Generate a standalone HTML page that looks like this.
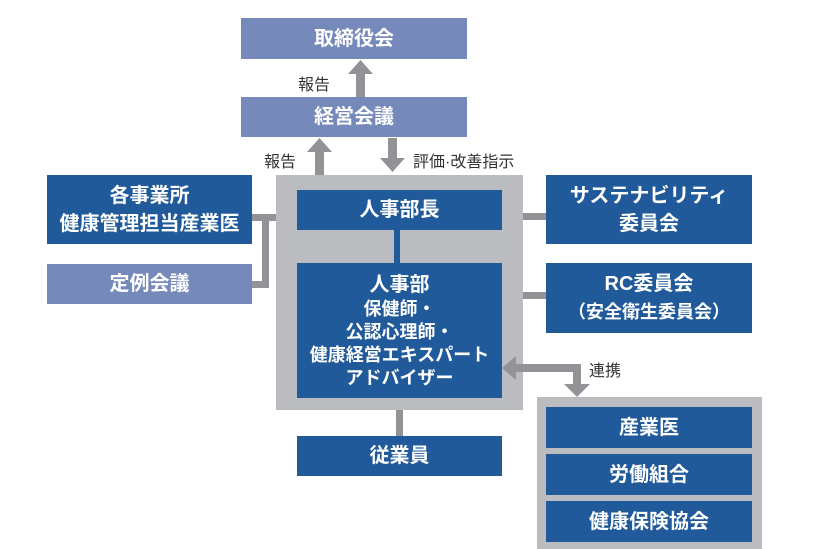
<!DOCTYPE html><html><head><meta charset="utf-8"><style>
body{margin:0;width:838px;height:549px;background:#fff;position:relative;overflow:hidden;font-family:"Liberation Sans","Noto Sans CJK JP",sans-serif}
.b{position:absolute;background:#215a9a;color:#fff;display:flex;flex-direction:column;align-items:center;justify-content:center;text-align:center;font-size:20px;font-weight:bold;line-height:28px}
.l{background:#7589bb}
.g{position:absolute;background:#bbbcc0}
.c{position:absolute;background:#929396}
.t{position:absolute;font-size:16px;color:#333}
</style></head><body>
<div class="b l" style="left:241px;top:18px;width:226px;height:41px">取締役会</div>
<div class="b l" style="left:241px;top:97px;width:226px;height:40px">経営会議</div>
<div class="t" style="left:298px;top:71px">報告</div>
<div class="t" style="left:264px;top:148px">報告</div>
<div class="t" style="left:413px;top:148px">評価·改善指示</div>
<div class="t" style="left:589px;top:357px">連携</div>
<div class="g" style="left:276px;top:175px;width:247px;height:235px"></div>
<div class="b" style="left:297px;top:190px;width:205px;height:40px">人事部長</div>
<div style="position:absolute;left:394px;top:230px;width:6px;height:33px;background:#215a9a"></div>
<div class="b" style="left:297px;top:263px;width:205px;height:135px;font-size:18px;line-height:23px"><div style="font-size:20px;line-height:26px">人事部</div>保健師・<br>公認心理師・<br>健康経営エキスパート<br>アドバイザー</div>
<div class="c" style="left:396px;top:410px;width:7px;height:26px"></div>
<div class="b" style="left:297px;top:436px;width:205px;height:40px">従業員</div>
<div class="b" style="left:47px;top:175px;width:205px;height:69px">各事業所<br>健康管理担当産業医</div>
<div class="b l" style="left:47px;top:264px;width:205px;height:40px">定例会議</div>
<div class="c" style="left:252px;top:214px;width:24px;height:7px"></div>
<div class="c" style="left:262px;top:214px;width:7px;height:74px"></div>
<div class="c" style="left:252px;top:281px;width:17px;height:7px"></div>
<div class="b" style="left:546px;top:175px;width:206px;height:69px">サステナビリティ<br>委員会</div>
<div class="b" style="left:546px;top:263px;width:206px;height:70px">RC委員会<br><span style="font-size:18px">（安全衛生委員会）</span></div>
<div class="c" style="left:523px;top:213px;width:23px;height:7px"></div>
<div class="c" style="left:523px;top:292px;width:23px;height:7px"></div>
<div class="g" style="left:537px;top:397px;width:225px;height:152px"></div>
<div class="b" style="left:546px;top:407px;width:206px;height:41px">産業医</div>
<div class="b" style="left:546px;top:454px;width:206px;height:41px">労働組合</div>
<div class="b" style="left:546px;top:501px;width:206px;height:41px">健康保険協会</div>
<svg style="position:absolute;left:0;top:0;z-index:5" width="838" height="549">
<g fill="#929396">
<rect x="356" y="72" width="9" height="25"/><polygon points="348,74 373,74 360.5,60"/>
<rect x="315" y="150" width="9" height="25"/><polygon points="307,152 332,152 319.5,138"/>
<rect x="388" y="138" width="9" height="22"/><polygon points="380,158 405,158 392.5,172"/>
<polygon points="502,368 516,356 516,380"/>
<rect x="514" y="364" width="67" height="8"/><rect x="573" y="364" width="8" height="22"/>
<polygon points="564,384 590,384 577,397"/>
</g></svg>
</body></html>
